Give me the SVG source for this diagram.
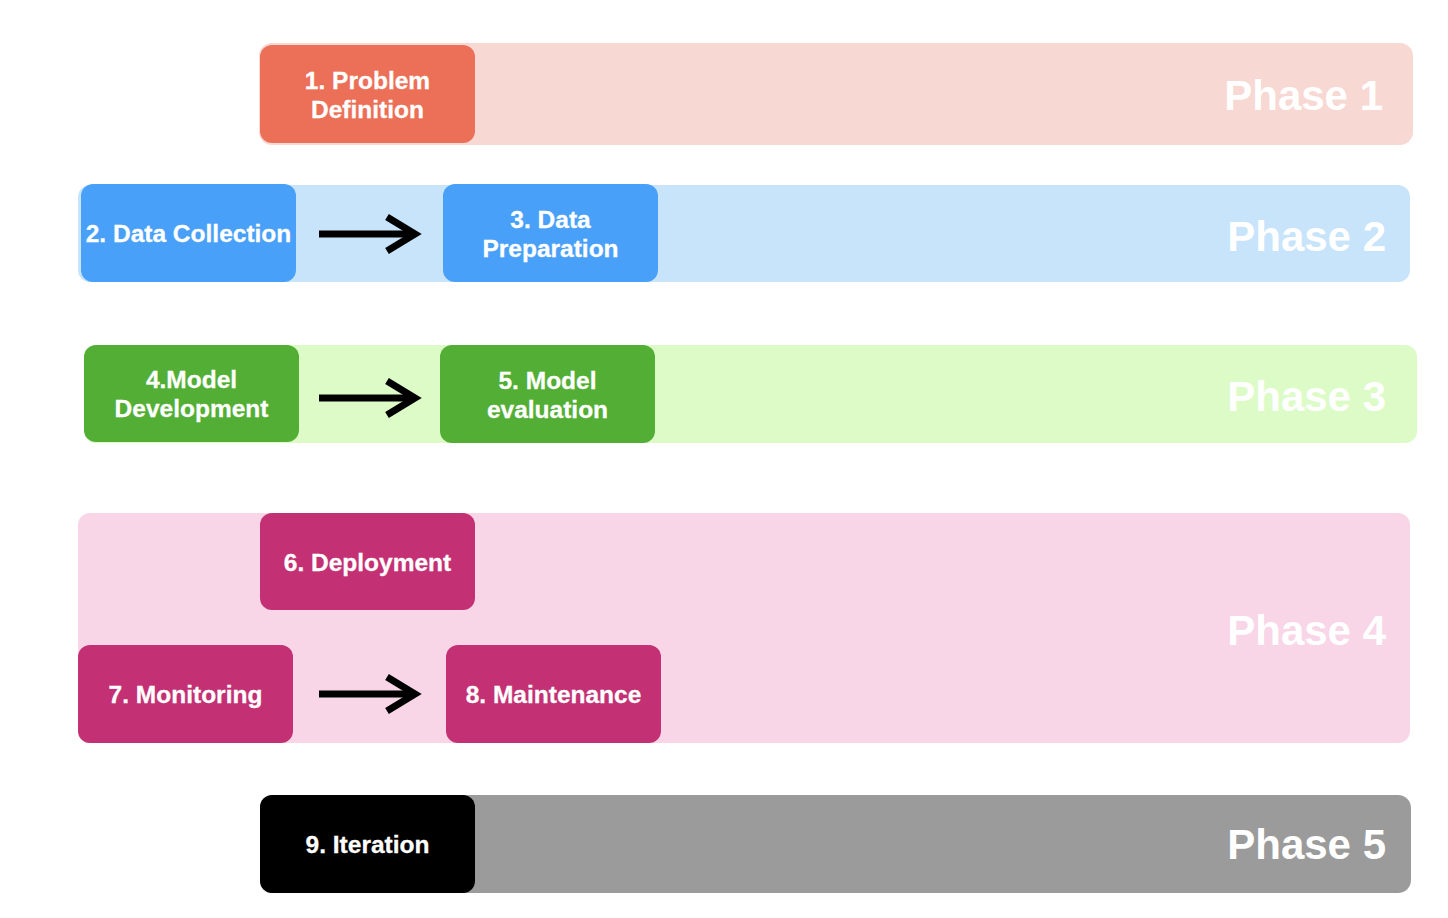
<svg xmlns="http://www.w3.org/2000/svg" width="1448" height="918" viewBox="0 0 1448 918">
  <defs>
    <marker id="chev" markerUnits="userSpaceOnUse" viewBox="-5 -5 42 46" markerWidth="42" markerHeight="46" refX="28" refY="17" orient="auto">
      <path d="M0,0 L28,17 L0,34" fill="none" stroke="#000" stroke-width="7" stroke-linejoin="miter"/>
    </marker>
  </defs>
  <style>
    .band { stroke: none; }
    .node { stroke: none; }
    .ntxt { font-family: "Liberation Sans", Arial, Helvetica, sans-serif; font-weight: bold; font-size: 24.5px; fill: #ffffff; text-anchor: middle; stroke: #ffffff; stroke-width: 0.3; }
    .ptxt { font-family: "Liberation Sans", Arial, Helvetica, sans-serif; font-weight: bold; font-size: 42px; fill: #ffffff; text-anchor: end; }
    .conn { stroke: #000; stroke-width: 7; fill: none; marker-end: url(#chev); }
  </style>
  <rect width="1448" height="918" fill="#ffffff"/>

  <g id="phase1">
    <rect class="band" x="259" y="43" width="1154" height="102" rx="13" fill="#F8D8D3"/>
    <text class="ptxt" x="1383" y="110">Phase 1</text>
  </g>
  <g id="phase2">
    <rect class="band" x="78" y="185" width="1332" height="97" rx="12" fill="#C7E4FB"/>
    <text class="ptxt" x="1386" y="251">Phase 2</text>
  </g>
  <g id="phase3">
    <rect class="band" x="84" y="345" width="1333" height="98" rx="12" fill="#DCFBC7"/>
    <text class="ptxt" x="1386" y="411">Phase 3</text>
  </g>
  <g id="phase4">
    <rect class="band" x="78" y="513" width="1332" height="230" rx="12" fill="#F8D5E7"/>
    <text class="ptxt" x="1386" y="645">Phase 4</text>
  </g>
  <g id="phase5">
    <rect class="band" x="260" y="795" width="1151" height="98" rx="13" fill="#9B9B9B"/>
    <text class="ptxt" x="1386" y="859">Phase 5</text>
  </g>

  <g id="node1">
    <rect class="node" x="260" y="45" width="215" height="98" rx="12" fill="#EC6F57"/>
    <text class="ntxt" x="367.5" y="89">1. Problem</text>
    <text class="ntxt" x="367.5" y="118">Definition</text>
  </g>
  <g id="node2">
    <rect class="node" x="81" y="184" width="215" height="98" rx="12" fill="#48A0F8"/>
    <text class="ntxt" x="188.5" y="242">2. Data Collection</text>
  </g>
  <g id="node3">
    <rect class="node" x="443" y="184" width="215" height="98" rx="12" fill="#48A0F8"/>
    <text class="ntxt" x="550.5" y="228">3. Data</text>
    <text class="ntxt" x="550.5" y="257">Preparation</text>
  </g>
  <g id="node4">
    <rect class="node" x="84" y="345" width="215" height="97" rx="12" fill="#52AE34"/>
    <text class="ntxt" x="191.5" y="388">4.Model</text>
    <text class="ntxt" x="191.5" y="417">Development</text>
  </g>
  <g id="node5">
    <rect class="node" x="440" y="345" width="215" height="98" rx="12" fill="#52AE34"/>
    <text class="ntxt" x="547.5" y="389">5. Model</text>
    <text class="ntxt" x="547.5" y="418">evaluation</text>
  </g>
  <g id="node6">
    <rect class="node" x="260" y="513" width="215" height="97" rx="12" fill="#C33073"/>
    <text class="ntxt" x="367.5" y="571">6. Deployment</text>
  </g>
  <g id="node7">
    <rect class="node" x="78" y="645" width="215" height="98" rx="12" fill="#C33073"/>
    <text class="ntxt" x="185.5" y="703">7. Monitoring</text>
  </g>
  <g id="node8">
    <rect class="node" x="446" y="645" width="215" height="98" rx="12" fill="#C33073"/>
    <text class="ntxt" x="553.5" y="703">8. Maintenance</text>
  </g>
  <g id="node9">
    <rect class="node" x="260" y="795" width="215" height="98" rx="12" fill="#000000"/>
    <text class="ntxt" x="367.5" y="853">9. Iteration</text>
  </g>

  <g id="connectors">
    <line class="conn" x1="319" y1="234" x2="415" y2="234"/>
    <line class="conn" x1="319" y1="398" x2="415" y2="398"/>
    <line class="conn" x1="319" y1="694" x2="415" y2="694"/>
  </g>
</svg>
